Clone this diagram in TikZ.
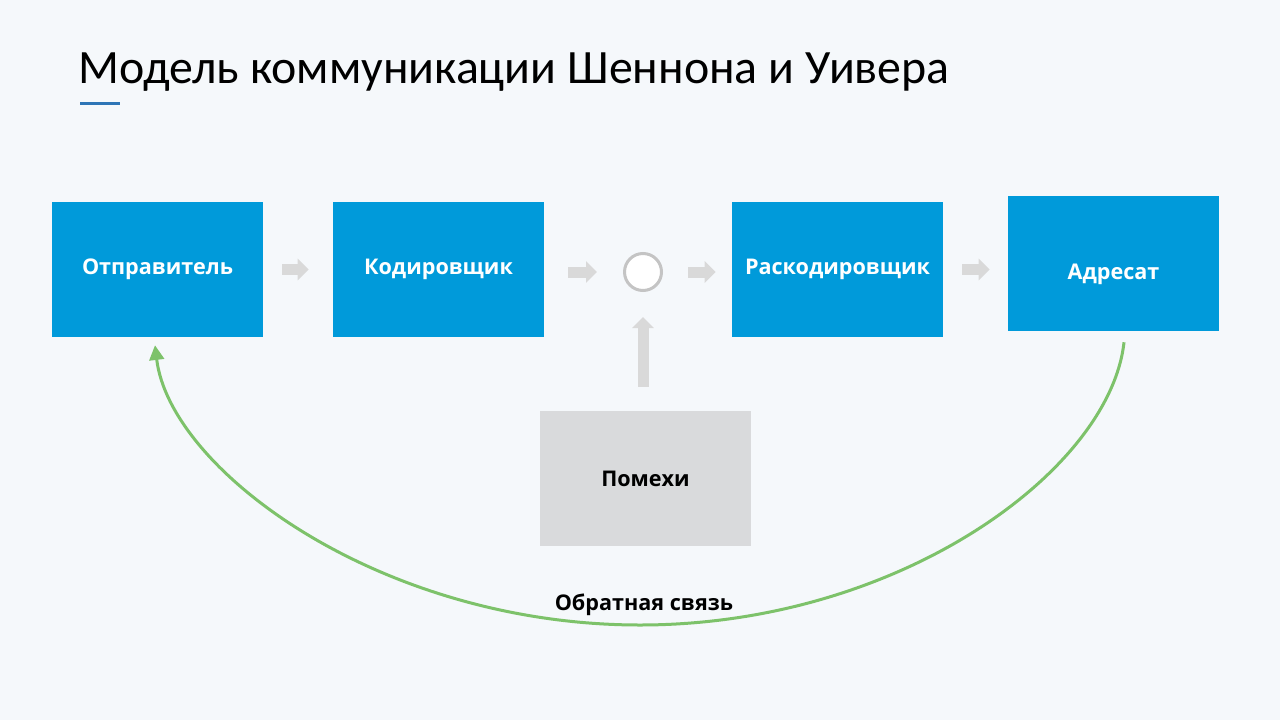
\documentclass[tikz,border=0pt]{standalone}
\usepackage{fontspec}
\setmainfont{Carlito}
\newfontfamily\labelfont{Open Sans}
\usetikzlibrary{arrows.meta}
\definecolor{slidebg}{RGB}{245,248,251}
\definecolor{boxblue}{RGB}{0,154,218}
\definecolor{noisegray}{RGB}{217,218,220}
\definecolor{arrowgray}{RGB}{217,217,217}
\definecolor{ringgray}{RGB}{196,196,196}
\definecolor{fbgreen}{RGB}{125,194,106}
\definecolor{accentblue}{RGB}{46,117,182}
\tikzset{
  stage/.style={fill=boxblue, text=white, minimum width=158.25pt, minimum height=101.25pt, inner sep=0pt, font=\labelfont\bfseries\fontsize{16.2}{19}\selectfont},
  noisebox/.style={stage, fill=noisegray, text=black},
  flowarrow/.style={draw=arrowgray, line width=8.25pt, -{Triangle[length=8.25pt,width=15.75pt]}},
  feedback/.style={draw=fbgreen, line width=2.25pt, -{Triangle[length=11pt,width=11pt]}},
}

\begin{document}
\begin{tikzpicture}[x=0.75pt,y=-0.75pt]
			%%%%% SLIDE %%%%%
			\fill[slidebg] (0,0) rectangle (1280,720);
			\useasboundingbox (0,0) rectangle (1280,720);
			
			\node[anchor=base west, inner sep=0pt, font=\fontsize{35.9}{40}\selectfont] (title) at (78,84) {Модель коммуникации Шеннона и Уивера};
			\draw[accentblue, line width=2.25pt] (80,103.5) -- (120,103.5);
			
			%%%%% CHAIN %%%%%
			\node[stage] (send) at (157.5,269.5) {Отправитель};
			\node[stage] (enc) at (438.5,269.5) {Кодировщик};
			\node[circle, draw=ringgray, line width=2.25pt, fill=white, minimum size=27.75pt, inner sep=0pt] (mix) at (643,272) {};
			\node[stage] (dec) at (837.5,269.5) {Раскодировщик};
			\node[stage] (adr) at (1113.5,263.5) {};
			\node[font=\labelfont\bfseries\fontsize{16.2}{19}\selectfont, text=white] (adrtext) at ([yshift=-8pt]adr.center) {Адресат};
			
			\node[noisebox] (noise) at (645.5,478.5) {Помехи};
			
			\draw[flowarrow, shorten <=14.25pt, shorten >=18pt] (send.east) -- (enc.west);
			\draw[flowarrow, shorten <=18pt, shorten >=19.5pt] (enc.east |- mix.west) -- (mix.west);
			\draw[flowarrow, shorten <=18.75pt, shorten >=12pt] (mix.east) -- (mix.east -| dec.west);
			\draw[flowarrow, shorten <=14.25pt, shorten >=13.5pt] (dec.east) -- (dec.east -| adr.west);
			\draw[flowarrow, shorten <=18pt, shorten >=18.75pt] (mix.south |- noise.north) -- (mix.south);
			
			%%%%% FEEDBACK %%%%%
			\coordinate (fbstart) at ([shift={(10.5,11)}]adr.south);
			\coordinate (fbend) at ([shift={(-2.5,8)}]send.south);
			\coordinate (fbbottom) at (640,625);
			\draw[feedback] (fbstart) .. controls (1110,470) and (900,625) .. (fbbottom) .. controls (380,625) and (170,470) .. (fbend);
			\node[font=\labelfont\bfseries\fontsize{16.2}{19}\selectfont] (fblabel) at (644,605) {Обратная связь};
			
			%%%%% END %%%%%
\end{tikzpicture}
\end{document}
